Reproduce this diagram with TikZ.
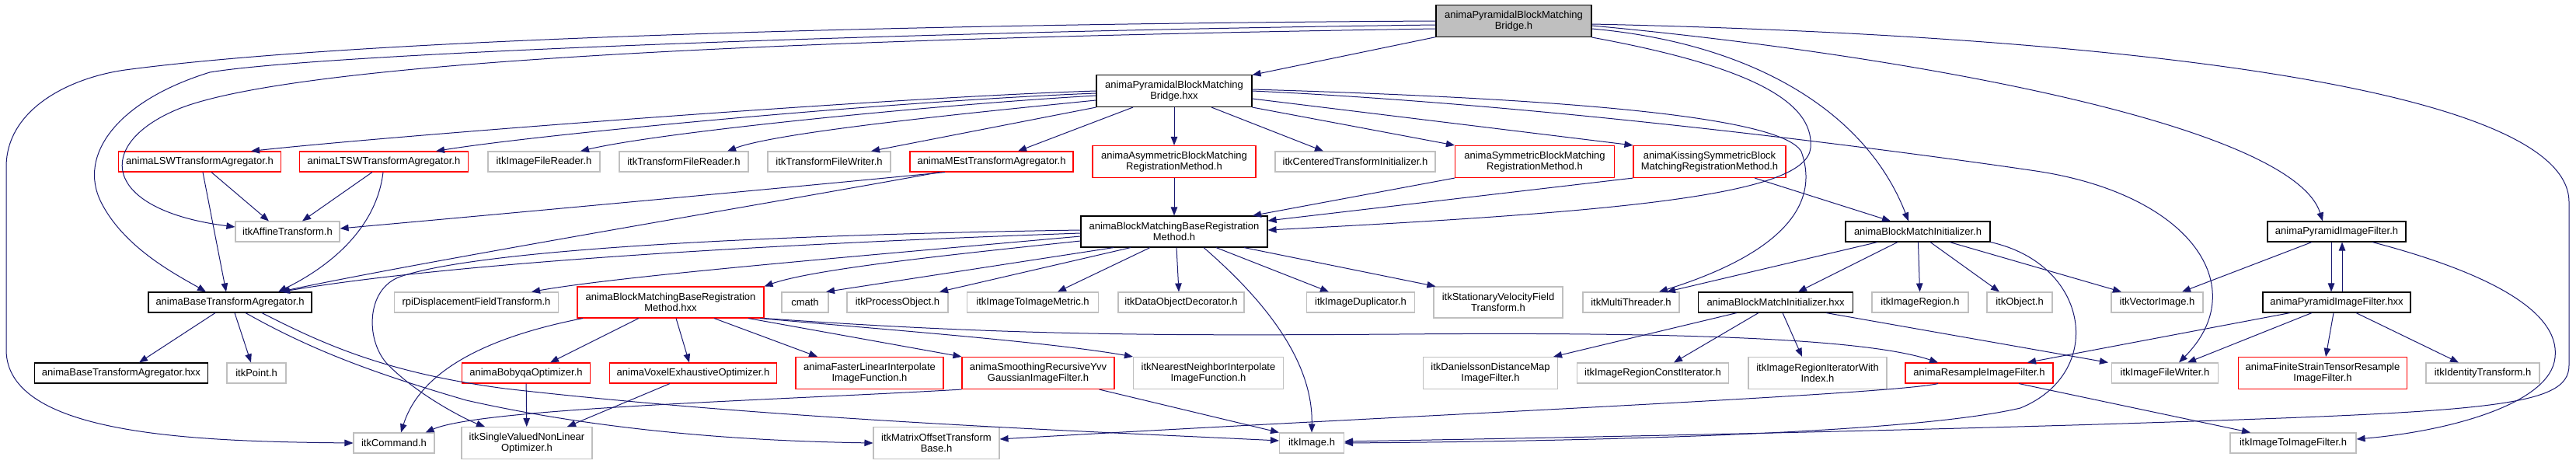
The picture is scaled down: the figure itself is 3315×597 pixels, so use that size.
\documentclass[tikz,border=0pt]{standalone}
\usepackage{fontspec}
\setmainfont{Liberation Sans}
\usepackage{tikz}
\usetikzlibrary{arrows.meta}

\definecolor{edgeblue}{HTML}{191970}
\definecolor{boxgray}{HTML}{BFBFBF}

\begin{document}
\begin{tikzpicture}[x=1pt,y=-1pt,>={Triangle[length=11pt,width=8.5pt]},
        incfile/.style={draw,line width=1.1pt,inner sep=0pt,minimum height=26pt,
            align=center,text=black,font=\fontsize{13}{14.5}\selectfont},
        hdrfile/.style={incfile,draw=black},
        redfile/.style={incfile,draw=red},
        sysfile/.style={incfile,draw=boxgray},
        twoline/.style={minimum height=41pt},
        dep/.style={->,draw=edgeblue,line width=1pt}]

        \useasboundingbox (0,0) rectangle (3315,597);

        % Root header
        \node[hdrfile,fill=boxgray,twoline,minimum width=200pt] (root) at (1948,27)
            {animaPyramidalBlockMatching\\Bridge.h};
        \node[hdrfile,twoline,minimum width=200pt] (bridgehxx) at (1511,117)
            {animaPyramidalBlockMatching\\Bridge.hxx};

        % Third row
        \node[redfile,minimum width=209pt] (lsw) at (257,208) {animaLSWTransformAgregator.h};
        \node[redfile,minimum width=217pt] (ltsw) at (494,208) {animaLTSWTransformAgregator.h};
        \node[sysfile,minimum width=144pt] (imgreader) at (700,208) {itkImageFileReader.h};
        \node[sysfile,minimum width=166pt] (trfreader) at (880,208) {itkTransformFileReader.h};
        \node[sysfile,minimum width=158pt] (trfwriter) at (1067,208) {itkTransformFileWriter.h};
        \node[redfile,minimum width=210pt] (mest) at (1276,208) {animaMEstTransformAgregator.h};
        \node[redfile,twoline,minimum width=210pt] (asym) at (1511,208)
            {animaAsymmetricBlockMatching\\RegistrationMethod.h};
        \node[sysfile,minimum width=206pt] (centered) at (1744,208) {itkCenteredTransformInitializer.h};
        \node[redfile,twoline,minimum width=205pt] (sym) at (1975,208)
            {animaSymmetricBlockMatching\\RegistrationMethod.h};
        \node[redfile,twoline,minimum width=196pt] (kissing) at (2200,208)
            {animaKissingSymmetricBlock\\MatchingRegistrationMethod.h};

        % Fourth row
        \node[sysfile,minimum width=134pt] (affine) at (370,298) {itkAffineTransform.h};
        \node[hdrfile,minimum width=240pt,minimum height=40pt] (base) at (1511,298)
            {animaBlockMatchingBaseRegistration\\Method.h};
        \node[hdrfile,minimum width=186pt] (bmi) at (2468,298) {animaBlockMatchInitializer.h};
        \node[hdrfile,minimum width=178pt] (pyrh) at (3007,298) {animaPyramidImageFilter.h};

        % Fifth row
        \node[hdrfile,minimum width=210pt] (baseagr) at (296,389) {animaBaseTransformAgregator.h};
        \node[sysfile,minimum width=211pt] (rpi) at (613,389) {rpiDisplacementFieldTransform.h};
        \node[redfile,minimum width=240pt,minimum height=40pt] (basehxx) at (863,389)
            {animaBlockMatchingBaseRegistration\\Method.hxx};
        \node[sysfile,minimum width=60pt] (cmath) at (1036,389) {cmath};
        \node[sysfile,minimum width=130pt] (procobj) at (1155,389) {itkProcessObject.h};
        \node[sysfile,minimum width=169pt] (metric) at (1329,389) {itkImageToImageMetric.h};
        \node[sysfile,minimum width=162pt] (decorator) at (1520,389) {itkDataObjectDecorator.h};
        \node[sysfile,minimum width=139pt] (duplicator) at (1751,389) {itkImageDuplicator.h};
        \node[sysfile,minimum width=166pt,minimum height=40pt] (stationary) at (1928,389)
            {itkStationaryVelocityField\\Transform.h};
        \node[sysfile,minimum width=124pt] (threader) at (2099,389) {itkMultiThreader.h};
        \node[hdrfile,minimum width=199pt] (bmihxx) at (2285,389) {animaBlockMatchInitializer.hxx};
        \node[sysfile,minimum width=124pt] (region) at (2471,389) {itkImageRegion.h};
        \node[sysfile,minimum width=84pt] (object) at (2599,389) {itkObject.h};
        \node[sysfile,minimum width=118pt] (vecimg) at (2776,389) {itkVectorImage.h};
        \node[hdrfile,minimum width=190pt] (pyrhxx) at (3007,389) {animaPyramidImageFilter.hxx};

        % Sixth row
        \node[hdrfile,minimum width=223pt] (baseagrhxx) at (156,480) {animaBaseTransformAgregator.hxx};
        \node[sysfile,minimum width=76pt] (point) at (330,480) {itkPoint.h};
        \node[redfile,minimum width=165pt] (bobyqa) at (677,480) {animaBobyqaOptimizer.h};
        \node[redfile,minimum width=215pt] (voxel) at (892,480) {animaVoxelExhaustiveOptimizer.h};
        \node[redfile,twoline,minimum width=190pt] (faster) at (1119,480)
            {animaFasterLinearInterpolate\\ImageFunction.h};
        \node[redfile,twoline,minimum width=196pt] (smoothing) at (1336,480)
            {animaSmoothingRecursiveYvv\\GaussianImageFilter.h};
        \node[sysfile,twoline,minimum width=193pt] (nearest) at (1555,480)
            {itkNearestNeighborInterpolate\\ImageFunction.h};
        \node[sysfile,twoline,minimum width=173pt] (danielsson) at (1918,480)
            {itkDanielssonDistanceMap\\ImageFilter.h};
        \node[sysfile,minimum width=195pt] (constiter) at (2127,480) {itkImageRegionConstIterator.h};
        \node[sysfile,twoline,minimum width=178pt] (iterindex) at (2339,480)
            {itkImageRegionIteratorWith\\Index.h};
        \node[redfile,minimum width=190pt] (resample) at (2547,480) {animaResampleImageFilter.h};
        \node[sysfile,minimum width=137pt] (filewriter) at (2786,480) {itkImageFileWriter.h};
        \node[redfile,twoline,minimum width=217pt] (finite) at (2989,480)
            {animaFiniteStrainTensorResample\\ImageFilter.h};
        \node[sysfile,minimum width=146pt] (identity) at (3195,480) {itkIdentityTransform.h};

        % Bottom row
        \node[sysfile,minimum width=104pt] (command) at (507,570) {itkCommand.h};
        \node[sysfile,twoline,minimum width=168pt] (singleval) at (678,570)
            {itkSingleValuedNonLinear\\Optimizer.h};
        \node[sysfile,twoline,minimum width=162pt] (matrixoff) at (1205,570)
            {itkMatrixOffsetTransform\\Base.h};
        \node[sysfile,minimum width=83pt] (image) at (1688,570) {itkImage.h};
        \node[sysfile,minimum width=162pt] (imgtoimg) at (2951,570) {itkImageToImageFilter.h};

        % Includes of the root header
        \draw[dep] (root) -- (bridgehxx);
        \draw[dep] (root.west) .. controls (1300,30) and (500,45) .. (161,90)
            .. controls (90,100) and (8,140) .. (8,215) -- (8,450)
            .. controls (8,560) and (250,568) .. (command.west);
        \draw[dep] ([yshift=-5pt]root.west) .. controls (1200,40) and (420,68) .. (270,93)
            .. controls (150,130) and (100,200) .. (130,260)
            .. controls (160,320) and (230,355) .. ([xshift=-31pt]baseagr.north);
        \draw[dep] ([yshift=-10pt]root.west) .. controls (1000,50) and (380,80) .. (230,140)
            .. controls (120,185) and (130,270) .. ([yshift=6pt]affine.west);
        \draw[dep] (root.south east) .. controls (2250,85) and (2335,130) .. (2330,190)
            .. controls (2325,250) and (2100,272) .. ([yshift=2pt]base.east);
        \draw[dep] ([yshift=-10pt]root.east) .. controls (2250,55) and (2400,140)
            .. ([xshift=-12pt]bmi.north);
        \draw[dep] ([yshift=-6pt]root.east) .. controls (2450,70) and (2950,160)
            .. ([xshift=-18pt]pyrh.north);
        \draw[dep] ([yshift=-4pt]root.east) .. controls (2700,45) and (3306,110) .. (3306,260)
            -- (3306,470) .. controls (3306,525) and (3200,530) .. (2700,546)
            .. controls (2300,558) and (1900,565) .. ([yshift=2pt]image.east);

        % Includes of the bridge implementation
        \draw[dep] (bridgehxx.west) .. controls (1150,125) and (500,175)
            .. ([xshift=66pt]lsw.north);
        \draw[dep] ([yshift=-3pt]bridgehxx.west) .. controls (1150,130) and (700,172)
            .. ([xshift=67pt]ltsw.north);
        \draw[dep] ([yshift=-6pt]bridgehxx.west) .. controls (1200,135) and (850,170)
            .. ([xshift=47pt]imgreader.north);
        \draw[dep] ([yshift=-12pt]bridgehxx.west) .. controls (1250,145) and (1000,170)
            .. ([xshift=56pt]trfreader.north);
        \draw[dep] (bridgehxx.south west) -- ([xshift=54pt]trfwriter.north);
        \draw[dep] ([xshift=-53pt]bridgehxx.south) -- ([xshift=34pt]mest.north);
        \draw[dep] (bridgehxx) -- (asym);
        \draw[dep] ([xshift=48pt]bridgehxx.south) -- ([xshift=-41pt]centered.north);
        \draw[dep] (bridgehxx.south east) -- (sym.north west);
        \draw[dep] ([yshift=-10pt]bridgehxx.east) -- (kissing.north west);
        \draw[dep] ([yshift=2pt]bridgehxx.east) .. controls (1950,125) and (2290,145) .. (2318,195)
            .. controls (2345,270) and (2280,330) .. ([xshift=36pt]threader.north);
        \draw[dep] (bridgehxx.east) .. controls (2000,135) and (2450,195) .. (2620,220)
            .. controls (2820,250) and (2900,370) .. ([xshift=18pt]filewriter.north);

        % Agregators
        \draw[dep] ([xshift=-60pt]mest.south) .. controls (1050,238) and (650,275)
            .. ([yshift=4pt]affine.east);
        \draw[dep] ([xshift=-67pt]mest.south) .. controls (1000,260) and (550,335)
            .. ([xshift=64pt]baseagr.north);
        \draw[dep] ([xshift=15pt]lsw.south) -- ([xshift=-24pt]affine.north);
        \draw[dep] ([xshift=4pt]lsw.south) -- ([xshift=-5pt]baseagr.north);
        \draw[dep] ([xshift=-15pt]ltsw.south) -- ([xshift=19pt]affine.north);
        \draw[dep] ([xshift=-1pt]ltsw.south) .. controls (485,290) and (430,340)
            .. ([xshift=62pt]baseagr.north);

        % Registration methods
        \draw[dep] (asym) -- (base);
        \draw[dep] (sym.south west) -- ([xshift=101pt]base.north);
        \draw[dep] (kissing.south west) -- ([yshift=14pt]base.east);
        \draw[dep] ([xshift=58pt]kissing.south) -- ([xshift=-35pt]bmi.north);

        % Includes of the base registration method
        \draw[dep] ([yshift=2pt]base.west) .. controls (1000,302) and (620,320) .. (515,356)
            .. controls (470,372) and (470,440) .. (500,470)
            .. controls (540,510) and (600,540) .. ([xshift=-54pt]singleval.north);
        \draw[dep] ([yshift=-2pt]base.west) .. controls (1050,312) and (600,335)
            .. ([xshift=66pt]baseagr.north);
        \draw[dep] ([yshift=-6pt]base.west) .. controls (1100,330) and (800,355)
            .. ([xshift=71pt]rpi.north);
        \draw[dep] ([yshift=-12pt]base.west) .. controls (1250,325) and (1050,345)
            .. (basehxx.north east);
        \draw[dep] ([xshift=-78pt]base.south) -- ([xshift=27pt]cmath.north);
        \draw[dep] ([xshift=-56pt]base.south) -- ([xshift=54pt]procobj.north);
        \draw[dep] ([xshift=-31pt]base.south) -- ([xshift=32pt]metric.north);
        \draw[dep] ([xshift=3pt]base.south) -- ([xshift=-3pt]decorator.north);
        \draw[dep] ([xshift=38pt]base.south) .. controls (1620,380) and (1690,460) .. (image.north);
        \draw[dep] ([xshift=54pt]base.south) -- ([xshift=-41pt]duplicator.north);
        \draw[dep] ([xshift=90pt]base.south) -- ([xshift=3pt]stationary.north west);

        % Includes of the base registration implementation
        \draw[dep] ([xshift=-113pt]basehxx.south) .. controls (620,435) and (540,480)
            .. ([xshift=9pt]command.north);
        \draw[dep] ([xshift=-41pt]basehxx.south) -- ([xshift=31pt]bobyqa.north);
        \draw[dep] ([xshift=7pt]basehxx.south) -- ([xshift=-5pt]voxel.north);
        \draw[dep] ([xshift=56pt]basehxx.south) -- ([xshift=-67pt]faster.north);
        \draw[dep] ([xshift=100pt]basehxx.south) -- (smoothing.north west);
        \draw[dep] ([xshift=115pt]basehxx.south) .. controls (1150,425) and (1350,440)
            .. (nearest.north west);
        \draw[dep] (basehxx.south east) .. controls (1300,432) and (1500,432) .. (1800,430)
            .. controls (2150,427) and (2400,435) .. ([xshift=-53pt]resample.north);
        \draw[dep] (bobyqa) -- (singleval);
        \draw[dep] ([xshift=-30pt]voxel.south) -- ([xshift=52pt]singleval.north);
        \draw[dep] (smoothing.south west) .. controls (1000,515) and (620,525)
            .. ([xshift=-12pt]command.north east);
        \draw[dep] ([xshift=-20pt]smoothing.south east) -- (image.north west);

        % Base agregator
        \draw[dep] ([xshift=-19pt]baseagr.south) -- ([xshift=23pt]baseagrhxx.north);
        \draw[dep] ([xshift=6pt]baseagr.south) -- ([xshift=-7pt]point.north);
        \draw[dep] ([xshift=20pt]baseagr.south) .. controls (400,450) and (480,480) .. (600,515)
            .. controls (800,560) and (1000,568) .. (matrixoff.west);
        \draw[dep] ([xshift=41pt]baseagr.south) .. controls (420,445) and (500,480) .. (650,500)
            .. controls (1000,540) and (1400,555) .. ([yshift=3pt]image.west);

        % Block match initializer
        \draw[dep] ([xshift=-52pt]bmi.south) -- ([xshift=46pt]threader.north);
        \draw[dep] ([xshift=-26pt]bmi.south) -- ([xshift=29pt]bmihxx.north);
        \draw[dep] (bmi) -- (region);
        \draw[dep] ([xshift=16pt]bmi.south) -- ([xshift=-26pt]object.north);
        \draw[dep] ([xshift=41pt]bmi.south) -- ([xshift=-46pt]vecimg.north);
        \draw[dep] (bmi.south east) .. controls (2690,340) and (2710,480) .. (2600,525)
            .. controls (2450,560) and (2000,568) .. (image.east);
        \draw[dep] ([xshift=-50pt]bmihxx.south) -- ([xshift=-6pt]danielsson.north east);
        \draw[dep] ([xshift=-22pt]bmihxx.south) -- ([xshift=27pt]constiter.north);
        \draw[dep] ([xshift=9pt]bmihxx.south) -- ([xshift=-20pt]iterindex.north);
        \draw[dep] ([xshift=65pt]bmihxx.south) -- ([xshift=-4pt]filewriter.north west);

        % Pyramid image filter
        \draw[dep] ([xshift=-7pt]pyrh.south) -- ([xshift=-7pt]pyrhxx.north);
        \draw[dep] ([xshift=7pt]pyrhxx.north) -- ([xshift=7pt]pyrh.south);
        \draw[dep] ([xshift=-32pt]pyrh.south) -- ([xshift=32pt]vecimg.north);
        \draw[dep] ([xshift=46pt]pyrh.south) .. controls (3200,350) and (3295,400) .. (3288,460)
            .. controls (3282,520) and (3150,555) .. ([yshift=5pt]imgtoimg.east);
        \draw[dep] ([xshift=-60pt]pyrhxx.south) -- ([xshift=62pt]resample.north);
        \draw[dep] ([xshift=-32pt]pyrhxx.south) -- ([xshift=29pt]filewriter.north);
        \draw[dep] ([xshift=-4pt]pyrhxx.south) -- ([xshift=4pt]finite.north);
        \draw[dep] ([xshift=25pt]pyrhxx.south) -- ([xshift=-31pt]identity.north);

        % Resample filter
        \draw[dep] ([xshift=-53pt]resample.south) .. controls (2430,508) and (1800,535)
            .. ([yshift=5pt]matrixoff.east);
        \draw[dep] ([xshift=51pt]resample.south) -- ([xshift=-55pt]imgtoimg.north);

    \end{tikzpicture}
\end{document}
